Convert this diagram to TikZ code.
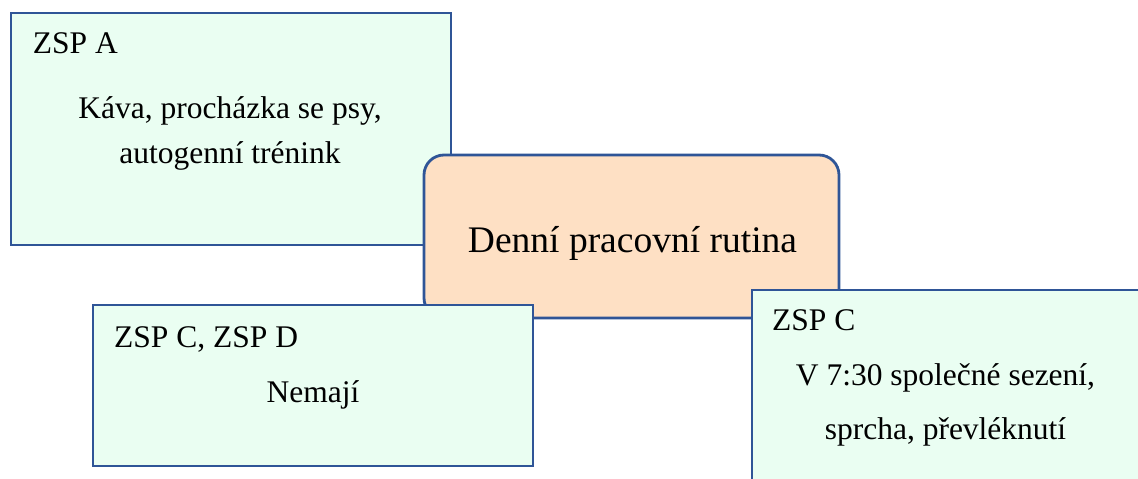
\documentclass[tikz,border=0pt]{standalone}
\usepackage{fontspec}
\setmainfont{Liberation Serif}
\definecolor{boxblue}{HTML}{2F5597}
\definecolor{mint}{HTML}{EAFEF2}
\definecolor{peach}{HTML}{FEE0C4}
\begin{document}
\begin{tikzpicture}[x=1pt,y=-1pt,
  greenbox/.style={draw=boxblue,line width=2.8pt,fill=mint,rectangle,inner sep=0pt},
  centerbox/.style={draw=boxblue,line width=2.8pt,fill=peach,rectangle,rounded corners=20pt,inner sep=0pt},
  small/.style={font=\fontsize{31.5}{38}\selectfont,inner sep=0pt},
  big/.style={font=\fontsize{37.5}{45}\selectfont,inner sep=0pt}]
\useasboundingbox (0,0) rectangle (1138,479);
\clip (0,0) rectangle (1138,479);
\fill[white] (0,0) rectangle (1138,479);
% Box A
\node[greenbox,minimum width=440pt,minimum height=232pt] (boxA) at (231,129) {};
\node[small,anchor=base west] (titleA) at (32.7,53) {ZSP A};
\node[small,anchor=base] (textA1) at (230,118) {Káva, procházka se psy,};
\node[small,anchor=base] (textA2) at (230,163) {autogenní trénink};
% Central box
\node[centerbox,minimum width=415pt,minimum height=163pt] (center) at (631.5,236.5) {};
\node[big,anchor=base] (centertext) at (632.5,252) {Denní pracovní rutina};
% Box C, D
\node[greenbox,minimum width=440pt,minimum height=161pt] (boxCD) at (313,385.5) {};
\node[small,anchor=base west] (titleCD) at (114,347) {ZSP C, ZSP D};
\node[small,anchor=base] (textCD) at (313,402) {Nemají};
% Box C
\node[greenbox,minimum width=390pt,minimum height=240pt] (boxC) at (947,410) {};
\node[small,anchor=base west] (titleC) at (772,330) {ZSP C};
\node[small,anchor=base] (textC1) at (945.5,385) {V 7:30 společné sezení,};
\node[small,anchor=base] (textC2) at (945.5,439) {sprcha, převléknutí};
\end{tikzpicture}
\end{document}
